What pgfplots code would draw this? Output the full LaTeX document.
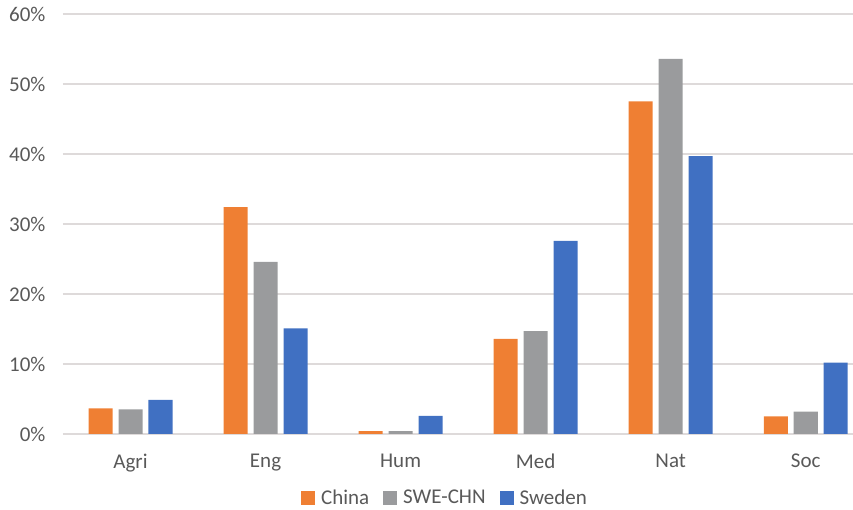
\documentclass[border=0pt]{standalone}
\usepackage{pgfplots}
\pgfplotsset{compat=1.18}
\usepackage{fontspec}
\setmainfont{Carlito}
\definecolor{cOr}{HTML}{EF7F33}
\definecolor{cGr}{HTML}{9A9B9D}
\definecolor{cBl}{HTML}{4070C2}
\definecolor{txt}{HTML}{595959}
\definecolor{gridc}{HTML}{DEDADA}
\begin{document}
\begin{tikzpicture}[x=1pt,y=1pt]
\useasboundingbox (-63,-76) rectangle (790,434);
\begin{axis}[
  at={(0,0)}, anchor=south west,
  scale only axis, width=790pt, height=420pt,
  xmin=-0.5, xmax=5.35, ymin=0, ymax=60,
  clip=false,
  ybar=0pt, bar width=0.178,
  ytick={0,10,...,60},
  yticklabel={\pgfmathprintnumber{\tick}\%},
  /pgf/number format/assume math mode=true,
  xtick={0,...,5},
  xticklabels={Agri,Eng,Hum,Med,Nat,Soc},
  tick style={draw=none},
  xmajorgrids=false,
  ymajorgrids, major grid style={draw=gridc, line width=1.2pt},
  axis line style={draw=none},
  axis x line*=bottom, axis y line*=left,
  ticklabel style={font=\fontsize{21}{24}\selectfont, text=txt},
  xticklabel style={yshift=-12pt},
  yticklabel style={xshift=-14pt},
  legend style={draw=none, at={(0.4835,-0.152)}, anchor=center, legend columns=3,
    font=\fontsize{21}{24}\selectfont, text=txt,
    /tikz/every odd column/.append style={column sep=0pt},
    /tikz/every even column/.append style={column sep=12pt}},
  legend image code/.code={\fill[#1] (0pt,-7pt) rectangle (14pt,7pt); \path (18pt,0pt);},
]
\draw[draw=gridc, line width=1.2pt] (axis cs:-0.5,0) -- (axis cs:5.35,0);
\addplot[fill=cOr, draw=none, bar shift=-0.222] coordinates {(0,3.67) (1,32.4) (2,0.4) (3,13.6) (4,47.5) (5,2.5)};
\addplot[fill=cGr, draw=none, bar shift=0] coordinates {(0,3.5) (1,24.6) (2,0.4) (3,14.7) (4,53.6) (5,3.2)};
\addplot[fill=cBl, draw=none, bar shift=0.222] coordinates {(0,4.86) (1,15.1) (2,2.6) (3,27.6) (4,39.7) (5,10.2)};
\legend{China,SWE-CHN,Sweden}
\end{axis}
\end{tikzpicture}
\end{document}
